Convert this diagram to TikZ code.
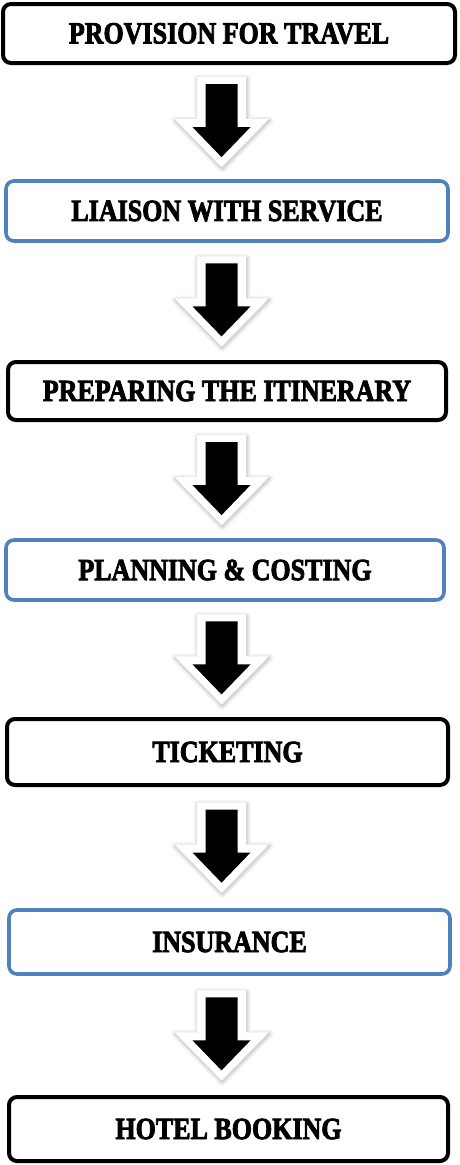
\documentclass[tikz,border=0pt]{standalone}
\usepackage{fontspec}
\setmainfont{Liberation Serif}[BoldFeatures={FakeBold=3}]
\usetikzlibrary{calc}
\definecolor{accentblue}{HTML}{4F81BD}
% stage captions: heavy, slightly tall capitals
\newcommand{\stagetext}[1]{\raisebox{-1.5pt}{\scalebox{1}[1.18]{#1}}}
\begin{document}
\begin{tikzpicture}[x=1pt,y=-1pt,
  stage/.style={rounded corners=8pt, fill=white, align=center, inner sep=0pt,
    font=\fontsize{26}{28}\selectfont\bfseries},
  darkstage/.style={stage, draw=black, line width=4pt},
  bluestage/.style={stage, draw=accentblue, line width=3.6pt},
  blockarrow/.pic={
    % soft glow under the white outline
    \foreach \w/\o in {9/0.04,7/0.05,5/0.07,3/0.09,1.5/0.12}{
      \draw[gray, line width=\w pt, opacity=\o, line join=round, shift={(0.8,1.5)}]
        (-24.5,-45) -- (24.5,-45) -- (24.5,-3) -- (47,-3) -- (0,45) -- (-47,-3) -- (-24.5,-3) -- cycle;
    }
    \fill[white] (-24.5,-45) -- (24.5,-45) -- (24.5,-3) -- (47,-3) -- (0,45) -- (-47,-3) -- (-24.5,-3) -- cycle;
    \fill[black] (-16,-38) -- (16,-38) -- (16,5) -- (29,5) -- (0,35) -- (-29,5) -- (-16,5) -- cycle;
  }]
\useasboundingbox (0,0) rectangle (459,1165);
\fill[white] (0,0) rectangle (459,1165);

\node[darkstage, minimum width=452, minimum height=59] (b1) at (229,33.5) {\stagetext{PROVISION FOR TRAVEL}};
\node[bluestage, minimum width=442, minimum height=60] (b2) at (227,211) {\stagetext{LIAISON WITH SERVICE}};
\node[darkstage, minimum width=438, minimum height=58] (b3) at (227,391) {\stagetext{PREPARING THE ITINERARY}};
\node[bluestage, minimum width=438, minimum height=60] (b4) at (225,570) {\stagetext{PLANNING \& COSTING}};
\node[darkstage, minimum width=441, minimum height=66] (b5) at (227.5,752) {\stagetext{TICKETING}};
\node[bluestage, minimum width=441, minimum height=64] (b6) at (229.5,942) {\stagetext{INSURANCE}};
\node[darkstage, minimum width=439, minimum height=64] (b7) at (228.5,1129) {\stagetext{HOTEL BOOKING}};

% block arrows centred between consecutive stages
\coordinate (ax) at (221.5,0);
\foreach \a/\b in {b1/b2,b2/b3,b3/b4,b4/b5,b5/b6,b6/b7}{
  \coordinate (m) at ($(\a.south)!0.5!(\b.north)$);
  \pic at (m -| ax) {blockarrow};
}
\end{tikzpicture}
\end{document}
